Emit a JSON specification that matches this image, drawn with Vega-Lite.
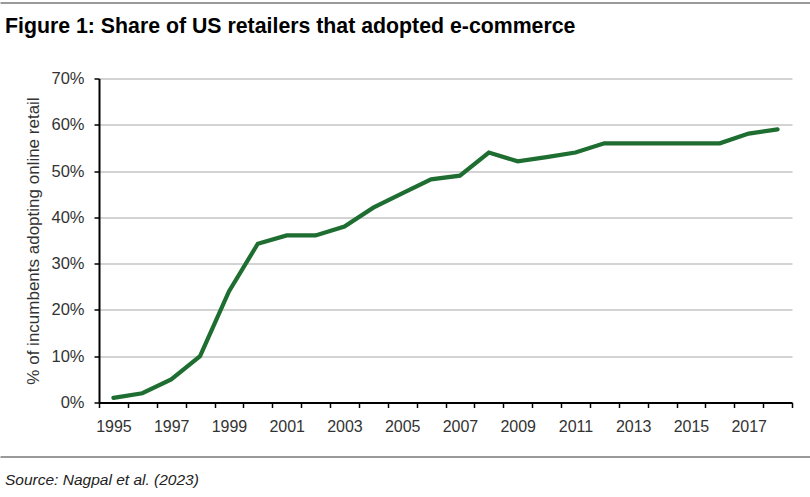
{
  "$schema": "https://vega.github.io/schema/vega-lite/v6.json",
  "background": "white",
  "padding": {"left": 5, "top": 2.5, "right": 0, "bottom": 0},
  "spacing": 12,
  "config": {"view": {"stroke": null}, "font": "Liberation Sans"},
  "data": {
    "values": [
      {"year": 1995, "share": 0.01},
      {"year": 1996, "share": 0.02},
      {"year": 1997, "share": 0.05},
      {"year": 1998, "share": 0.10},
      {"year": 1999, "share": 0.24},
      {"year": 2000, "share": 0.343},
      {"year": 2001, "share": 0.361},
      {"year": 2002, "share": 0.361},
      {"year": 2003, "share": 0.38},
      {"year": 2004, "share": 0.421},
      {"year": 2005, "share": 0.452},
      {"year": 2006, "share": 0.482},
      {"year": 2007, "share": 0.49},
      {"year": 2008, "share": 0.54},
      {"year": 2009, "share": 0.521},
      {"year": 2010, "share": 0.53},
      {"year": 2011, "share": 0.54},
      {"year": 2012, "share": 0.56},
      {"year": 2013, "share": 0.56},
      {"year": 2014, "share": 0.56},
      {"year": 2015, "share": 0.56},
      {"year": 2016, "share": 0.56},
      {"year": 2017, "share": 0.581},
      {"year": 2018, "share": 0.59}
    ]
  },
  "vconcat": [
    {
      "width": 693,
      "height": 1,
      "mark": {"type": "text", "text": "", "size": 0},
      "encoding": {
        "x": {
          "field": "year", "type": "quantitative",
          "scale": {"range": [-99, 711]},
          "axis": {"orient": "top", "domainColor": "#9a9a9a", "domainWidth": 2, "ticks": false, "labels": false, "grid": false, "title": null, "minExtent": 0}
        }
      }
    },
    {
      "width": 693,
      "height": 324,
      "title": {
        "text": "Figure 1: Share of US retailers that adopted e-commerce",
        "anchor": "start",
        "frame": "group",
        "dx": -94,
        "offset": 33.5,
        "fontSize": 21.3,
        "fontWeight": "bold",
        "color": "#000000"
      },
      "mark": {"type": "line", "color": "#1e6d31", "strokeWidth": 4.2, "strokeCap": "round", "strokeJoin": "miter"},
      "encoding": {
        "x": {
          "field": "year", "type": "ordinal", "bandPosition": 0.5,
          "scale": {"type": "band", "paddingInner": 0, "paddingOuter": 0},
          "axis": {
            "title": null, "tickBand": "extent", "labelAngle": 0, "labelOverlap": false,
            "labelExpr": "datum.value % 2 == 1 ? datum.value : ''",
            "labelFontSize": 16, "labelColor": "#333333", "labelPadding": 11,
            "tickSize": 5, "tickColor": "#000000", "tickWidth": 1.5,
            "domainColor": "#000000", "domainWidth": 2, "grid": false
          }
        },
        "y": {
          "field": "share", "type": "quantitative",
          "scale": {"domain": [0, 0.7]},
          "axis": {
            "title": "% of incumbents adopting online retail",
            "titleFontSize": 17, "titleFontWeight": "normal", "titleColor": "#333333", "titlePadding": 8,
            "format": ".0%", "values": [0, 0.1, 0.2, 0.3, 0.4, 0.5, 0.6, 0.7],
            "labelFontSize": 16.5, "labelColor": "#333333", "labelPadding": 10,
            "tickSize": 5, "tickColor": "#000000", "tickWidth": 1.5,
            "domainColor": "#000000", "domainWidth": 2,
            "gridColor": "#c4c4c4", "gridWidth": 1.5
          }
        }
      }
    },
    {
      "width": 693,
      "height": 10,
      "title": {
        "text": "Source: Nagpal et al. (2023)",
        "orient": "bottom",
        "anchor": "start",
        "frame": "group",
        "dx": -94,
        "offset": 16,
        "fontSize": 15.5,
        "fontStyle": "italic",
        "fontWeight": "normal",
        "color": "#222222"
      },
      "mark": {"type": "text", "text": "", "size": 0},
      "encoding": {
        "x": {
          "field": "year", "type": "quantitative",
          "scale": {"range": [-99, 711]},
          "axis": {"orient": "bottom", "domainColor": "#9a9a9a", "domainWidth": 2, "ticks": false, "labels": false, "grid": false, "title": null, "minExtent": 0}
        }
      }
    }
  ]
}
